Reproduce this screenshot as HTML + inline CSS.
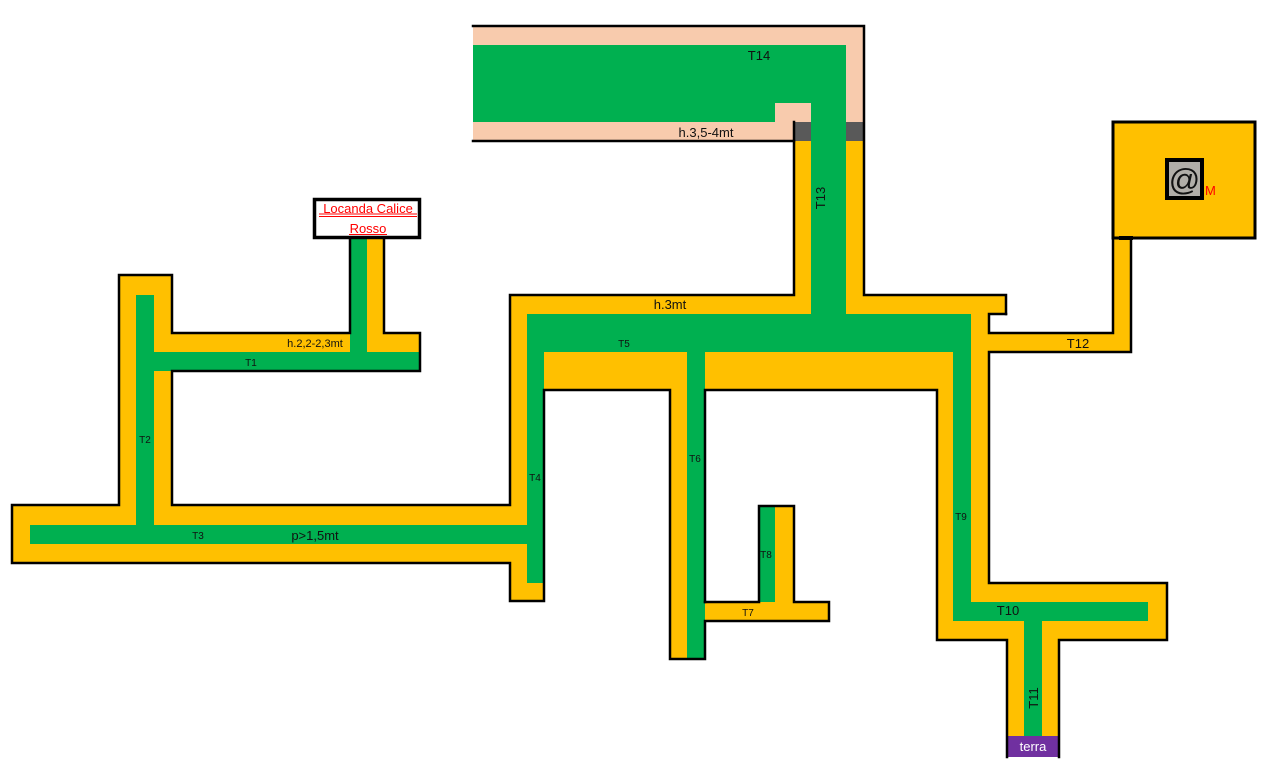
<!DOCTYPE html>
<html><head><meta charset="utf-8"><style>
html,body{margin:0;padding:0;background:#fff;}
svg{display:block;font-family:"Liberation Sans",sans-serif;}
</style></head><body>
<svg width="1266" height="767" viewBox="0 0 1266 767" xmlns="http://www.w3.org/2000/svg">
<!-- T14 peach -->
<rect x="473" y="26" width="391" height="116" fill="#F8CBAD"/>
<rect x="473" y="45" width="373" height="77" fill="#00B050"/>
<rect x="775" y="103" width="36" height="19" fill="#F8CBAD"/>
<rect x="794" y="122" width="17" height="19" fill="#595959"/>
<rect x="846" y="122" width="18" height="19" fill="#595959"/>
<!-- T13 -->
<rect x="794" y="141" width="70" height="160" fill="#FFC000"/>
<!-- hub -->
<rect x="510" y="295" width="496" height="19" fill="#FFC000"/>
<rect x="510" y="295" width="17" height="306" fill="#FFC000"/>
<rect x="527" y="314" width="444" height="38" fill="#00B050"/>
<rect x="811" y="45" width="35" height="275" fill="#00B050"/>
<rect x="544" y="352" width="409" height="38" fill="#FFC000"/>
<rect x="971" y="314" width="18" height="269" fill="#FFC000"/>
<rect x="527" y="583" width="17" height="18" fill="#FFC000"/>
<rect x="527" y="314" width="17" height="269" fill="#00B050"/>
<!-- T12 & M -->
<rect x="989" y="333" width="142" height="19" fill="#FFC000"/>
<rect x="1113" y="238" width="18" height="114" fill="#FFC000"/>
<rect x="1113" y="122" width="142" height="116" fill="#FFC000" stroke="#000" stroke-width="3"/>
<rect x="1167" y="160" width="35" height="38" fill="#B1AEA8" stroke="#000" stroke-width="4"/>
<text x="1184.5" y="190" font-size="31" text-anchor="middle" fill="#111">@</text>
<text x="1205" y="195" font-size="13" fill="#FF0000">M</text>
<line x1="1119" y1="238" x2="1133" y2="238" stroke="#000" stroke-width="4"/>
<!-- T6 T7 T8 -->
<rect x="670" y="390" width="17" height="269" fill="#FFC000"/>
<rect x="687" y="352" width="18" height="307" fill="#00B050"/>
<rect x="705" y="602" width="124" height="19" fill="#FFC000"/>
<rect x="775" y="506" width="19" height="96" fill="#FFC000"/>
<rect x="759" y="506" width="16" height="96" fill="#00B050"/>
<!-- T9 T10 T11 -->
<rect x="937" y="390" width="16" height="250" fill="#FFC000"/>
<rect x="937" y="583" width="230" height="57" fill="#FFC000"/>
<rect x="1007" y="640" width="52" height="96" fill="#FFC000"/>
<rect x="953" y="314" width="18" height="307" fill="#00B050"/>
<rect x="953" y="602" width="195" height="19" fill="#00B050"/>
<rect x="1024" y="621" width="18" height="115" fill="#00B050"/>
<rect x="1007" y="736" width="52" height="21" fill="#7030A0"/>
<text x="1033" y="751" font-size="13" text-anchor="middle" fill="#fff">terra</text>
<!-- left: T1 T2 T3 -->
<rect x="119" y="275" width="53" height="230" fill="#FFC000"/>
<rect x="172" y="333" width="248" height="19" fill="#FFC000"/>
<rect x="367" y="238" width="17" height="95" fill="#FFC000"/>
<rect x="12" y="505" width="498" height="58" fill="#FFC000"/>
<rect x="350" y="238" width="17" height="114" fill="#00B050"/>
<rect x="154" y="352" width="266" height="19" fill="#00B050"/>
<rect x="136" y="295" width="18" height="235" fill="#00B050"/>
<rect x="30" y="525" width="497" height="19" fill="#00B050"/>
<!-- Locanda box -->
<rect x="314.5" y="199.5" width="105" height="38" fill="#fff" stroke="#000" stroke-width="3.5"/>
<text x="368" y="213" font-size="13" text-anchor="middle" fill="#FF0000">Locanda Calice</text>
<line x1="319" y1="214" x2="417" y2="214" stroke="#FF0000" stroke-width="1"/>
<line x1="319" y1="216.5" x2="417" y2="216.5" stroke="#FF0000" stroke-width="1"/>
<text x="368" y="233" font-size="13" text-anchor="middle" fill="#FF0000">Rosso</text>
<line x1="349" y1="234.5" x2="387" y2="234.5" stroke="#FF0000" stroke-width="1"/>
<!-- outlines -->
<g stroke="#000" stroke-width="2.5" fill="none" stroke-linecap="square">
<polyline points="473,26 864,26 864,295 1006,295 1006,314"/>
<polyline points="473,141 794,141 794,122"/>
<polyline points="794,141 794,295 510,295 510,505 172,505 172,371 420,371 420,333 384,333 384,238"/>
<polyline points="350,238 350,333 172,333 172,275 119,275 119,505 12,505 12,563 510,563 510,601 544,601 544,390 670,390 670,659 705,659 705,621 829,621 829,602 794,602 794,506 759,506 759,602 705,602"/>
<polyline points="705,602 705,390 937,390 937,640 1007,640 1007,757"/>
<polyline points="1059,757 1059,640 1167,640 1167,583 989,583 989,352 1131,352 1131,238"/>
<polyline points="1113,238 1113,333 989,333 989,314 1006,314"/>
</g>
<!-- labels -->
<g fill="#111" font-size="13">
<text x="759" y="60" text-anchor="middle">T14</text>
<text x="706" y="137" text-anchor="middle">h.3,5-4mt</text>
<text x="670" y="309" text-anchor="middle">h.3mt</text>
<text transform="translate(825,198) rotate(-90)" text-anchor="middle">T13</text>
<text x="315" y="540" text-anchor="middle">p&gt;1,5mt</text>
<text x="1008" y="615" text-anchor="middle">T10</text>
<text transform="translate(1038,698) rotate(-90)" text-anchor="middle">T11</text>
<text x="1078" y="348" text-anchor="middle">T12</text>
</g>
<g fill="#111" font-size="10">
<text x="624" y="347" text-anchor="middle">T5</text>
<text x="251" y="366" text-anchor="middle">T1</text>
<text x="315" y="347" text-anchor="middle" font-size="11">h.2,2-2,3mt</text>
<text x="145" y="443" text-anchor="middle">T2</text>
<text x="198" y="539" text-anchor="middle">T3</text>
<text x="535" y="481" text-anchor="middle">T4</text>
<text x="695" y="462" text-anchor="middle">T6</text>
<text x="766" y="558" text-anchor="middle">T8</text>
<text x="748" y="616" text-anchor="middle">T7</text>
<text x="961" y="520" text-anchor="middle">T9</text>
</g>
</svg>
</body></html>
